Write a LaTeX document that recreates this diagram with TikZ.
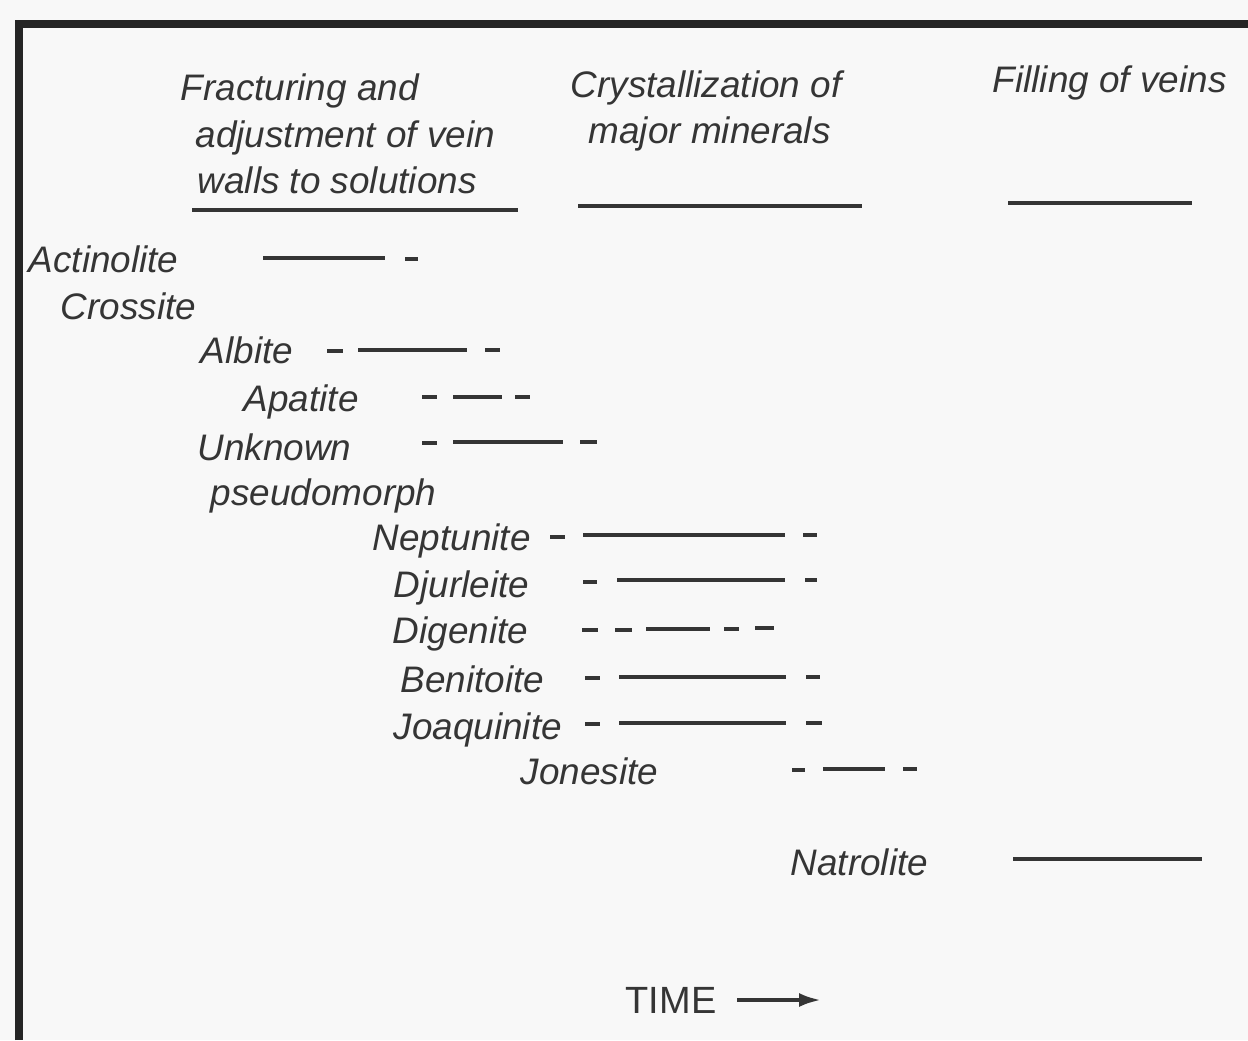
\documentclass[tikz,border=0pt]{standalone}
\usepackage{fontspec}
\setmainfont{Liberation Sans}
\usepackage{tikz}
\usetikzlibrary{positioning,arrows.meta}
\definecolor{ink}{HTML}{353535}
\definecolor{paper}{HTML}{F8F8F8}
\tikzstyle{lab}=[anchor=base west, inner sep=0pt, font=\fontsize{10.5}{13}\selectfont\itshape, text=ink]
\tikzstyle{bar}=[draw=ink, line width=1.1pt]

\begin{document}
\begin{tikzpicture}[x=0.1mm, y=-0.1mm]
	\useasboundingbox (0,0) rectangle (1248,1040);
	\fill[paper] (0,0) rectangle (1248,1040);
	% frame
	\draw[ink!70!black, line width=2.2pt] (19,1040) -- (19,24) -- (1248,24);

	% stages
	\node[lab] (h1a) at (180,100) {Fracturing and};
	\node[lab] (h1b) at (195,147) {adjustment of vein};
	\node[lab] (h1c) at (197,193) {walls to solutions};
	\node[lab] (h2a) at (570,97) {Crystallization of};
	\node[lab] (h2b) at (588,143) {major minerals};
	\node[lab] (h3a) at (992,92) {Filling of veins};
	\draw[bar] (192,210) -- (518,210);
	\draw[bar] (578,206) -- (862,206);
	\draw[bar] (1008,203) -- (1192,203);

	% minerals
	\node[lab] (actinolite) at (28,272) {Actinolite};
	\node[lab] (crossite) at (60,319) {Crossite};
	\node[lab] (albite) at (200,363) {Albite};
	\node[lab] (apatite) at (243,411) {Apatite};
	\node[lab] (unknown) at (197,460) {Unknown};
	\node[lab] (pseudo) at (210,505) {pseudomorph};
	\node[lab] (neptunite) at (372,550) {Neptunite};
	\node[lab] (djurleite) at (393,597) {Djurleite};
	\node[lab] (digenite) at (392,643) {Digenite};
	\node[lab] (benitoite) at (400,692) {Benitoite};
	\node[lab] (joaquinite) at (393,739) {Joaquinite};
	\node[lab] (jonesite) at (520,784) {Jonesite};
	\node[lab] (natrolite) at (790,875) {Natrolite};

	% ranges
	\draw[bar] (263,258) -- (385,258);
	\draw[bar] (405,259) -- (418,259);

	\draw[bar] (327,351) -- (343,351);
	\draw[bar] (358,350) -- (467,350);
	\draw[bar] (485,350) -- (500,350);

	\draw[bar] (422,397) -- (437,397);
	\draw[bar] (453,397) -- (502,397);
	\draw[bar] (515,397) -- (530,397);

	\draw[bar] (422,443) -- (437,443);
	\draw[bar] (453,442) -- (563,442);
	\draw[bar] (580,442) -- (597,442);

	\draw[bar] (550,537) -- (565,537);
	\draw[bar] (583,535) -- (785,535);
	\draw[bar] (803,535) -- (817,535);

	\draw[bar] (583,582) -- (597,582);
	\draw[bar] (617,580) -- (785,580);
	\draw[bar] (805,580) -- (817,580);

	\draw[bar] (582,630) -- (598,630);
	\draw[bar] (615,630) -- (632,630);
	\draw[bar] (646,629) -- (710,629);
	\draw[bar] (724,629) -- (739,629);
	\draw[bar] (755,628) -- (774,628);

	\draw[bar] (585,678) -- (600,678);
	\draw[bar] (619,677) -- (786,677);
	\draw[bar] (806,677) -- (820,677);

	\draw[bar] (585,724) -- (600,724);
	\draw[bar] (619,723) -- (786,723);
	\draw[bar] (806,723) -- (822,723);

	\draw[bar] (792,770) -- (805,770);
	\draw[bar] (823,769) -- (885,769);
	\draw[bar] (903,769) -- (917,769);

	\draw[bar] (1013,859) -- (1202,859);

	% time axis
	\node[lab, font=\fontsize{10.8}{13}\selectfont] (time) at (625,1013) {TIME};
	\coordinate (tend) at (821,1000);
	\draw[bar, -{Latex[length=2.2mm, width=1.4mm]}] ([xshift=2.0mm]time.east) -- (tend);
\end{tikzpicture}
\end{document}
